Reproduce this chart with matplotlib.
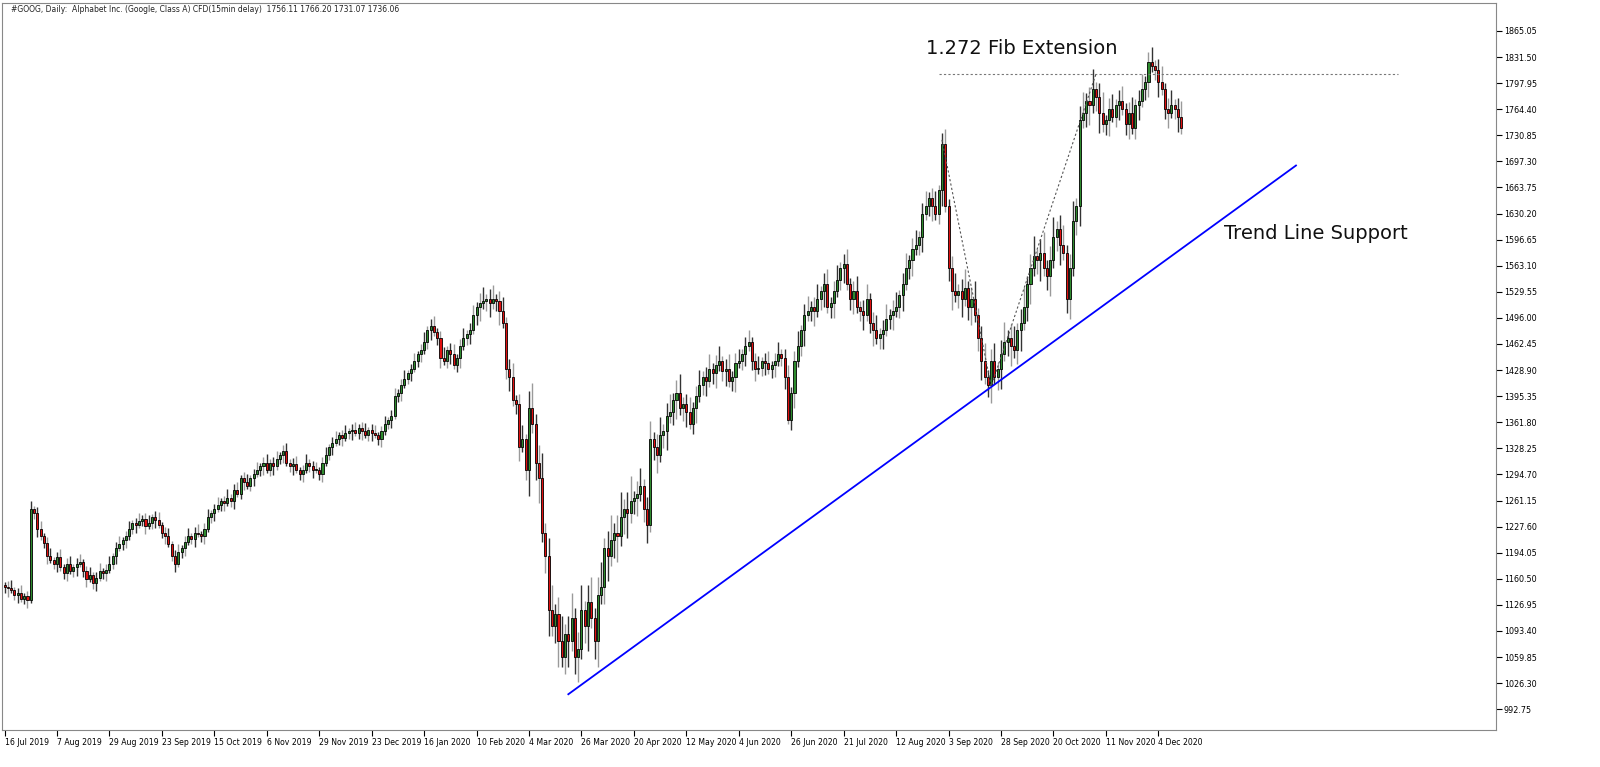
import matplotlib
matplotlib.use("Agg")
import matplotlib.pyplot as plt
import numpy as np

closes = [
1150,1148,1146,1140,1142,1135,1138,1133,1250,1245,1225,1215,1207,1190,1185,1180,
1188,1175,1168,1180,1170,1175,1180,1182,1170,1160,1165,1155,1162,1170,1168,1172,
1180,1190,1200,1205,1210,1215,1225,1232,1230,1235,1238,1228,1232,1240,1236,1230,
1220,1215,1205,1190,1180,1195,1200,1208,1215,1212,1220,1218,1215,1225,1240,1245,
1250,1255,1260,1258,1265,1260,1275,1270,1290,1285,1280,1290,1295,1300,1305,1310,
1300,1310,1305,1315,1320,1325,1310,1305,1308,1300,1295,1300,1310,1305,1300,1300,
1295,1310,1320,1330,1335,1340,1345,1342,1348,1350,1352,1348,1355,1350,1345,1352,
1348,1345,1340,1350,1360,1365,1370,1395,1400,1410,1418,1425,1430,1440,1450,1455,
1465,1480,1485,1478,1470,1445,1440,1455,1450,1435,1445,1460,1470,1475,1480,1500,
1510,1515,1518,1520,1515,1520,1518,1505,1490,1430,1420,1390,1385,1330,1340,1300,
1380,1360,1310,1290,1220,1190,1120,1100,1115,1080,1060,1090,1080,1110,1060,1070,
1120,1100,1130,1110,1080,1140,1150,1200,1190,1210,1220,1215,1240,1250,1245,1260,
1265,1270,1280,1250,1230,1340,1330,1320,1345,1350,1370,1375,1390,1400,1380,1385,
1375,1360,1380,1395,1410,1420,1415,1430,1425,1435,1440,1428,1430,1415,1420,1438,
1440,1450,1460,1465,1440,1430,1432,1440,1438,1430,1435,1440,1450,1445,1420,1365,
1400,1440,1460,1480,1500,1505,1510,1505,1520,1530,1540,1510,1515,1530,1545,1560,
1565,1540,1520,1530,1510,1505,1500,1520,1490,1480,1470,1475,1480,1495,1500,1505,
1510,1525,1540,1560,1570,1585,1590,1600,1630,1640,1650,1640,1630,1660,1720,1640,
1560,1530,1525,1530,1520,1535,1510,1520,1500,1470,1440,1420,1410,1440,1420,1430,
1450,1465,1470,1460,1455,1480,1490,1510,1540,1560,1575,1570,1580,1560,1550,1570,
1600,1610,1590,1580,1520,1560,1620,1640,1750,1760,1775,1770,1790,1780,1760,1745,
1750,1765,1755,1770,1775,1765,1745,1760,1740,1770,1775,1790,1800,1825,1820,1815,
1800,1790,1765,1760,1770,1765,1755,1740]
first_open = 1152
wick_by_segment = [8,8,8,8,8,8,8,8,10,14,25,25,18,15,12,15,15,15,18,20,20,15,15]

date_labels = ["16 Jul 2019","7 Aug 2019","29 Aug 2019","23 Sep 2019","15 Oct 2019","6 Nov 2019",
"29 Nov 2019","23 Dec 2019","16 Jan 2020","10 Feb 2020","4 Mar 2020","26 Mar 2020","20 Apr 2020",
"12 May 2020","4 Jun 2020","26 Jun 2020","21 Jul 2020","12 Aug 2020","3 Sep 2020","28 Sep 2020",
"20 Oct 2020","11 Nov 2020","4 Dec 2020"]
price_ticks = [1865.05,1831.50,1797.95,1764.40,1730.85,1697.30,1663.75,1630.20,1596.65,1563.10,
1529.55,1496.00,1462.45,1428.90,1395.35,1361.80,1328.25,1294.70,1261.15,1227.60,1194.05,
1160.50,1126.95,1093.40,1059.85,1026.30,992.75]
fib_level = 1810
zigzag_idx = [286, 301, 333]
zigzag_px = [1725, 1408, 1810]
trend_idx = [172, 394]
trend_px = [1012, 1692]

n = len(closes)
opens = [first_open] + closes[:-1]

fig = plt.figure(figsize=(16, 7.67), dpi=100)
ax = fig.add_axes([0.001, 37/767, 1494/1600, 727/767])
for i in range(n):
    o, c = opens[i], closes[i]
    w = wick_by_segment[min(i // 16, len(wick_by_segment) - 1)]
    hi = max(o, c) + w * (0.5 + (i % 3) * 0.4)
    lo = min(o, c) - w * (0.5 + ((i + 1) % 3) * 0.4)
    ax.vlines(i, lo, hi, color="#9a9a9a" if i % 2 else "#333333", lw=1, zorder=1)
    col = "#2e8b2e" if c >= o else "#e01010"
    ax.bar(i, max(abs(c - o), 1.5), bottom=min(o, c), width=0.62, color=col,
           edgecolor="black", linewidth=0.6, zorder=2)

ax.plot(trend_idx, trend_px, color="#0000ff", lw=1.3, zorder=3)
ax.plot(zigzag_idx, zigzag_px, color="#555555", lw=0.8, ls=(0, (2, 2)), zorder=3)
ax.hlines(fib_level, 285, 425, color="#777777", lw=0.8, ls=(0, (2, 2)), zorder=3)
ax.text(281, 1843, "1.272 Fib Extension", fontsize=14, color="#111111", va="center")
ax.text(372, 1605, "Trend Line Support", fontsize=14, color="#111111", va="center")
ax.text(2, 1893, "#GOOG, Daily:  Alphabet Inc. (Google, Class A) CFD(15min delay)  1756.11 1766.20 1731.07 1736.06",
        fontsize=5.5, color="#222222", va="center")

ax.set_xlim(-0.9, 454.9)
ax.set_ylim(966, 1901)
ax.yaxis.tick_right()
ax.set_yticks(price_ticks)
ax.set_yticklabels([f"{p:.2f}" for p in price_ticks], fontsize=5.8)
ax.set_xticks(np.arange(len(date_labels)) * 16)
ax.set_xticklabels(date_labels, fontsize=5.6, ha="left")
ax.tick_params(axis="x", length=4, pad=2)
ax.tick_params(axis="y", length=4, pad=2)
for s in ax.spines.values():
    s.set_color("#888888")
fig.savefig("out.png", dpi=100)
